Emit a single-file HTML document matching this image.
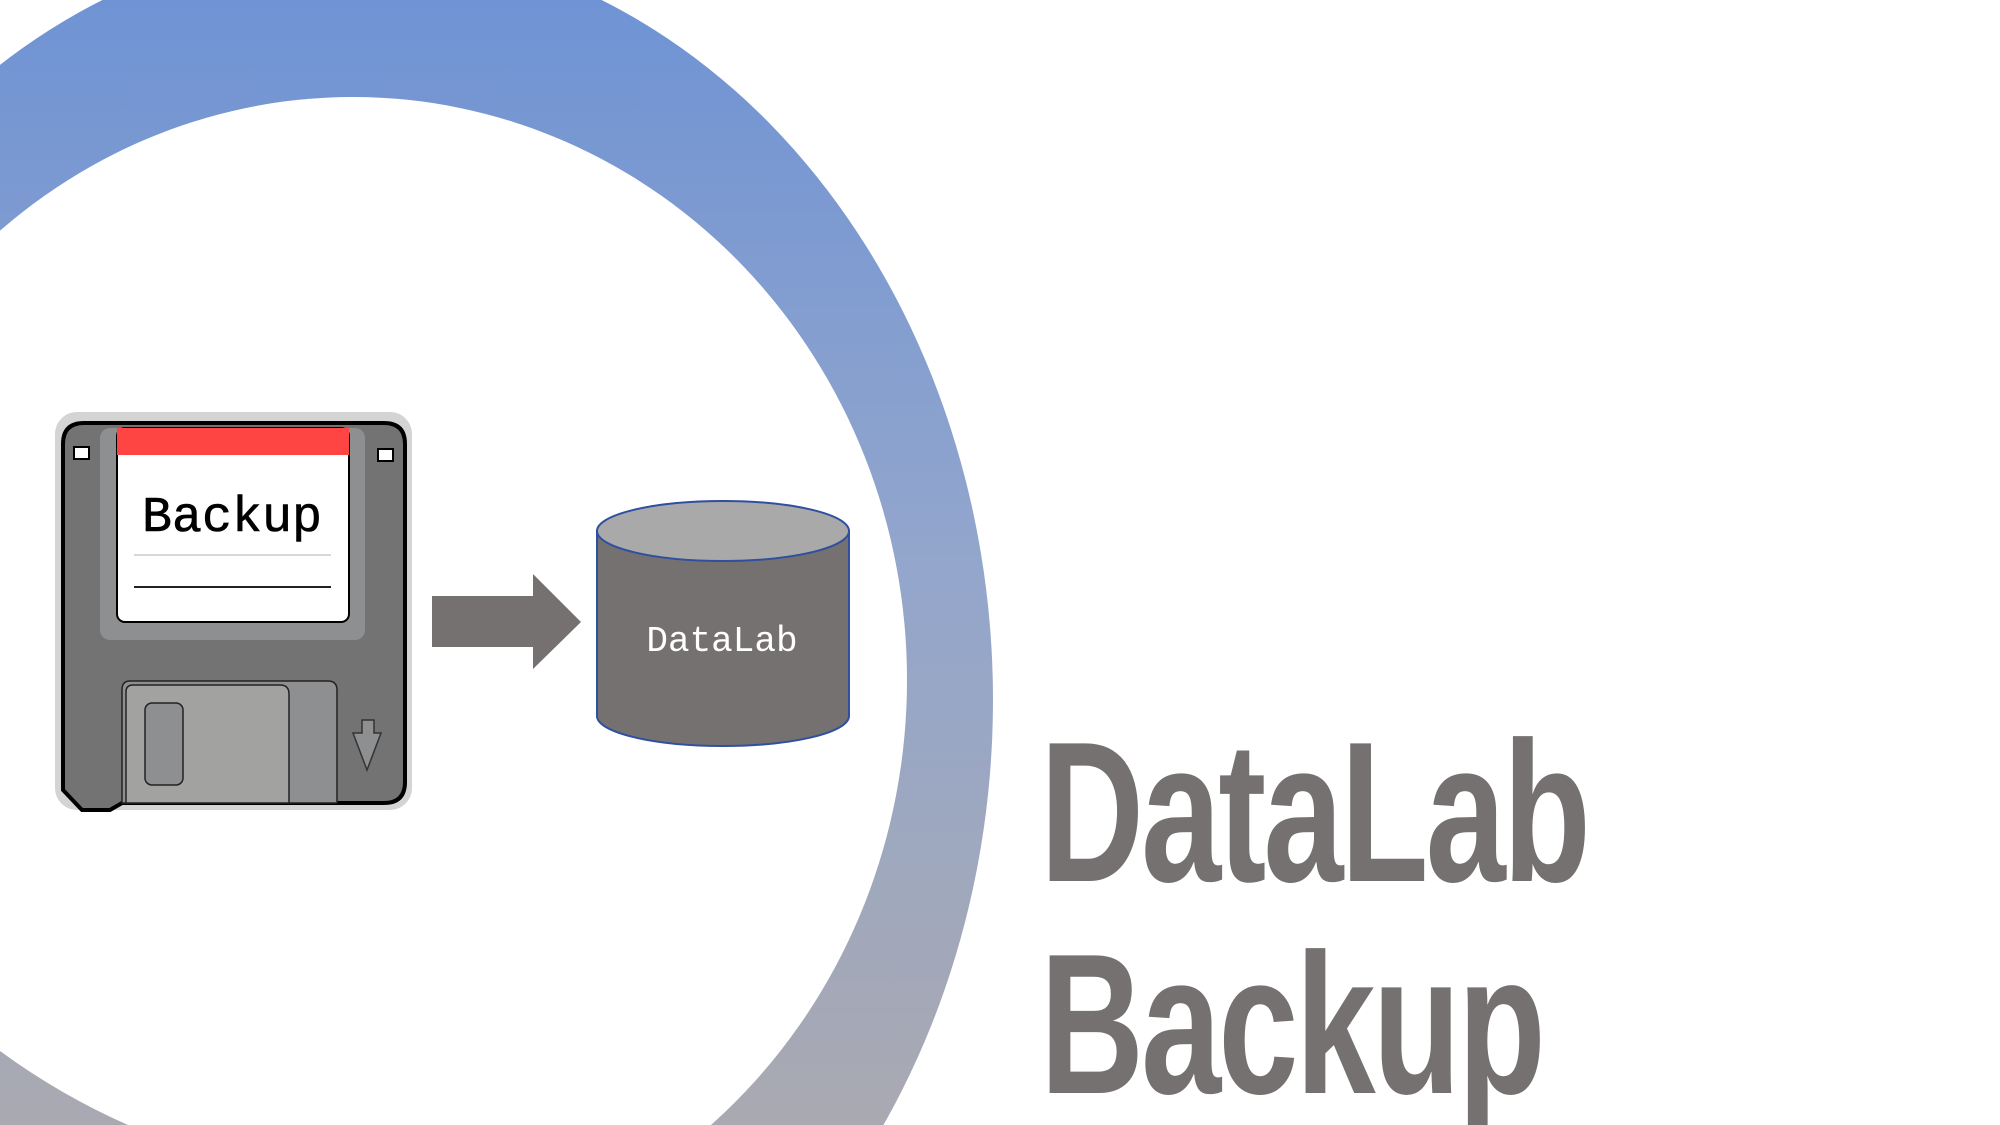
<!DOCTYPE html>
<html><head><meta charset="utf-8"><style>
html,body{margin:0;padding:0;background:#fff;overflow:hidden;width:2000px;height:1125px;}
body{position:relative;}
svg{position:absolute;left:0;top:0;}
.t{position:absolute;left:1040px;height:180px;overflow:hidden;font-family:"Liberation Sans",sans-serif;font-weight:bold;color:#757171;font-size:200px;line-height:1;transform-origin:0 0;transform:scaleX(0.72);letter-spacing:-4px;}
</style></head><body>
<svg width="2000" height="1125" viewBox="0 0 2000 1125">
<defs>
<linearGradient id="g" x1="0" y1="0" x2="0" y2="1125" gradientUnits="userSpaceOnUse">
<stop offset="0" stop-color="#6f93d4"/>
<stop offset="0.5" stop-color="#93a6cc"/>
<stop offset="1" stop-color="#a9a9b1"/>
</linearGradient>
</defs>
<rect width="2000" height="1125" fill="#fff"/>
<ellipse cx="352" cy="700" rx="641" ry="760" fill="url(#g)"/>
<ellipse cx="353" cy="680" rx="554" ry="583" fill="#fff"/>
<path d="M0 1051 Q60 1095 128 1125 L0 1125 Z" fill="url(#g)"/>
<!-- floppy -->
<rect x="55" y="412" width="357" height="398" rx="22" fill="#d4d4d4"/>
<path d="M84 423 H384 Q405 423 405 444 V782 Q405 803 384 803 H122 L110 810 H82 L63 790 V444 Q63 423 84 423 Z" fill="#727372" stroke="#000" stroke-width="4"/>
<rect x="100" y="428" width="265" height="212" rx="10" fill="#8e8f90"/>
<rect x="117" y="428" width="232" height="194" rx="8" fill="#fff" stroke="#000" stroke-width="2"/>
<rect x="117" y="428" width="232" height="27" fill="#ff4444"/>
<line x1="134" y1="555" x2="331" y2="555" stroke="#ccc" stroke-width="1.5"/>
<line x1="134" y1="587" x2="331" y2="587" stroke="#222" stroke-width="2"/>
<text x="232" y="531" text-anchor="middle" font-family="Liberation Mono,monospace" font-size="50" fill="#000" stroke="#000" stroke-width="0.6">Backup</text>
<rect x="74" y="447" width="15" height="12" fill="#fff" stroke="#000" stroke-width="2"/>
<rect x="378" y="449" width="15" height="12" fill="#fff" stroke="#000" stroke-width="2"/>
<path d="M130 681 H328 Q337 681 337 690 V803 H122 V690 Q122 681 130 681 Z" fill="#8e8f90" stroke="#222" stroke-width="1.5"/>
<path d="M133 685 H280 Q289 685 289 694 V803 H126 V692 Q126 685 133 685 Z" fill="#a2a3a1" stroke="#222" stroke-width="1.5"/>
<rect x="145" y="703" width="38" height="82" rx="7" fill="#8e8f90" stroke="#222" stroke-width="1.5"/>
<path d="M362 720 H374 V733 H381 L367 770 L353 733 H362 Z" fill="#8e8f90" stroke="#333" stroke-width="1.5"/>
<!-- arrow -->
<path d="M432 596 H533 V574 L581 622 L533 669 V647 H432 Z" fill="#757171"/>
<!-- cylinder -->
<path d="M597 531 V716 A126 30 0 0 0 849 716 V531 Z" fill="#757171" stroke="#2f4f9f" stroke-width="2"/>
<ellipse cx="723" cy="531" rx="126" ry="30" fill="#aaa9a9" stroke="#2f4f9f" stroke-width="2"/>
<text x="722" y="651" text-anchor="middle" font-family="Liberation Mono,monospace" font-size="36" fill="#fff">DataLab</text>
</svg>
<div class="t" style="top:713px;">DataLab</div>
<div class="t" style="top:925px;height:200px;">Backup</div>
</body></html>
